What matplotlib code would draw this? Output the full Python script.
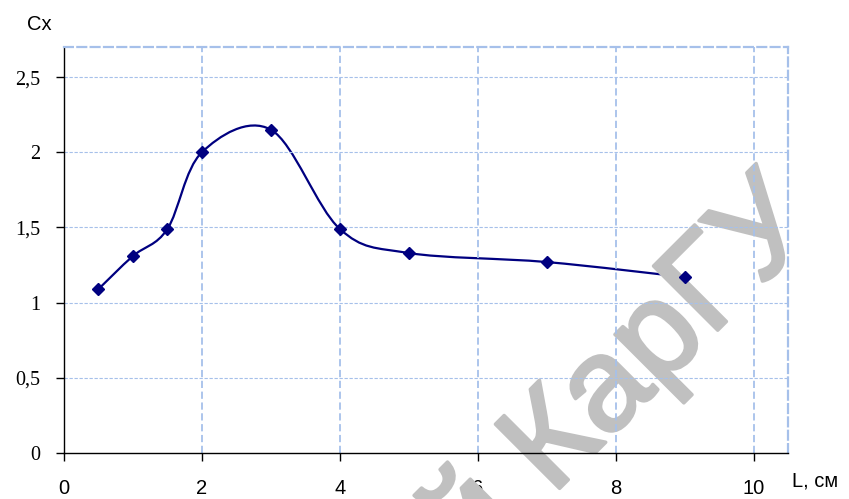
import numpy as np
import matplotlib.pyplot as plt
import matplotlib.patheffects as pe
from matplotlib.path import Path
from matplotlib.patches import PathPatch

L_cm = [0.5, 1, 1.5, 2, 3, 4, 5, 7, 9]
Cx = [1.09, 1.31, 1.49, 2.0, 2.15, 1.49, 1.33, 1.27, 1.17]

x_ticks = [0, 2, 4, 6, 8, 10]
y_ticks = [0, 0.5, 1, 1.5, 2, 2.5]
y_labels = ['0', '0,5', '1', '1,5', '2', '2,5']

LINE = '#000080'
GRID = '#a6c0ea'

fig = plt.figure(figsize=(8.49, 4.99), dpi=100)
ax = fig.add_axes([64 / 849, 46 / 499, 724 / 849, 406 / 499])
ax.set_xlim(0, 10.5)
ax.set_ylim(0, 2.7)

# excel-like smoothed line (catmull-rom bezier in screen-ish units)
sx, sy = 69.0, 150.0
pts = np.column_stack([np.array(L_cm) * sx, np.array(Cx) * sy])
ext = np.vstack([pts[0], pts, pts[-1]])
verts = [pts[0]]
codes = [Path.MOVETO]
for i in range(len(pts) - 1):
    p0, p1, p2, p3 = ext[i], ext[i + 1], ext[i + 2], ext[i + 3]
    c1 = p1 + (p2 - p0) / 6
    c2 = p2 - (p3 - p1) / 6
    verts += [c1, c2, p2]
    codes += [Path.CURVE4] * 3
verts = np.array(verts) / [sx, sy]
ax.add_patch(PathPatch(Path(verts, codes), fill=False, edgecolor=LINE,
                       lw=1.6, zorder=2))
ax.plot(L_cm, Cx, ls='none', marker='D', ms=6.5, color=LINE, zorder=3)

# grid
for xv in x_ticks[1:]:
    ax.axvline(xv, color=GRID, lw=1.3, ls=(0, (4, 2)), zorder=2.4)
for yv in y_ticks[1:]:
    ax.axhline(yv, color=GRID, lw=0.8, ls=(0, (3, 1.5)), zorder=2.4)

ax.spines['top'].set_color(GRID)
ax.spines['top'].set_linestyle((0, (4, 2)))
ax.spines['top'].set_linewidth(1.6)
ax.spines['right'].set_color(GRID)
ax.spines['right'].set_linestyle((0, (4, 2)))
ax.spines['right'].set_linewidth(1.6)
ax.spines['left'].set_linewidth(1.0)
ax.spines['bottom'].set_linewidth(1.0)

ax.set_xticks(x_ticks)
ax.set_xticklabels([str(v) for v in x_ticks], family='Liberation Sans',
                   fontsize=14.5)
ax.set_yticks(y_ticks)
ax.set_yticklabels(y_labels, family='Liberation Serif', fontsize=14.5)
ax.tick_params(axis='x', direction='out', length=6, width=1, pad=13)
ax.tick_params(axis='y', direction='out', length=6, width=1, pad=11)

fig.text(27 / 849, 1 - 24 / 499, 'Cx', family='Liberation Sans',
         fontsize=14.5, va='center', ha='left')
fig.text(792 / 849, 1 - 481 / 499, 'L, см', family='Liberation Sans',
         fontsize=14.5, va='center', ha='left')

# watermark
wm = ax.text(820 / 849, 1 - 228 / 499, 'Репозиторий КарГУ',
             transform=fig.transFigure, family='Liberation Sans',
             fontsize=95, color='#c0c0c0', rotation=45, ha='right',
             va='baseline', rotation_mode='anchor', zorder=2.2,
             clip_on=False)
wm.set_path_effects([pe.withStroke(linewidth=2.5, foreground='#c0c0c0')])

fig.savefig('out.png', dpi=100)
